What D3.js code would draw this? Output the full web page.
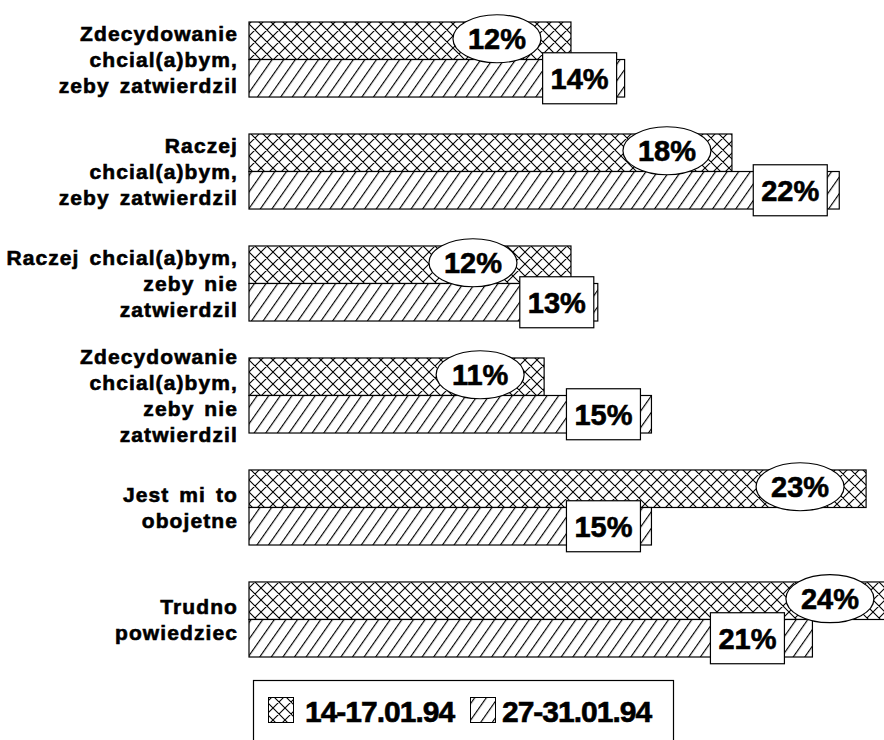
<!DOCTYPE html>
<html>
<head>
<meta charset="utf-8">
<script src="https://cdn.jsdelivr.net/npm/d3@7"></script>
<style>
  html, body { margin: 0; padding: 0; background: #fff; }
  svg { display: block; }
  text { font-family: "Liberation Sans", Arial, Helvetica, sans-serif; font-weight: bold; fill: #000; stroke: #000; stroke-width: 0.6px; }
</style>
</head>
<body>
<svg id="chart" width="884" height="740"></svg>
<script>
// ---- data ----
const categories = [
  ["Zdecydowanie", "chcial(a)bym,", "zeby zatwierdzil"],
  ["Raczej", "chcial(a)bym,", "zeby zatwierdzil"],
  ["Raczej chcial(a)bym,", "zeby nie", "zatwierdzil"],
  ["Zdecydowanie", "chcial(a)bym,", "zeby nie", "zatwierdzil"],
  ["Jest mi to", "obojetne"],
  ["Trudno", "powiedziec"]
];
const seriesNames = ["14-17.01.94", "27-31.01.94"];
const valuesJan14 = [12, 18, 12, 11, 23, 24];
const valuesJan27 = [14, 22, 13, 15, 15, 21];

// ---- layout (label placement, not data) ----
const ellipseShift = [-74, -65, -98, -64, -66, -63];
const boxShift = [-45, -49, -41, -48, -48, -65];

const svg = d3.select("#chart");
const defs = svg.append("defs");

// crosshatch pattern
const ph = defs.append("pattern").attr("id", "cross")
  .attr("patternUnits", "userSpaceOnUse").attr("width", 12).attr("height", 12)
  .attr("x", 249).attr("y", 0);
ph.append("rect").attr("width", 12).attr("height", 12).attr("fill", "#fff");
ph.append("path").attr("d", "M0,0L12,12M12,0L0,12M-1,11L1,13M11,-1L13,1M-1,1L1,-1M11,13L13,11")
  .attr("stroke", "#000").attr("stroke-width", 1.1);

// diagonal pattern
const pd = defs.append("pattern").attr("id", "diag")
  .attr("patternUnits", "userSpaceOnUse").attr("width", 9.5).attr("height", 9.5)
  .attr("patternTransform", "rotate(35)");
pd.append("rect").attr("width", 9.5).attr("height", 9.5).attr("fill", "#fff");
pd.append("line").attr("x1", 0.5).attr("y1", 0).attr("x2", 0.5).attr("y2", 9.5)
  .attr("stroke", "#000").attr("stroke-width", 1.3);

const fills = ["url(#cross)", "url(#diag)"];

const x = d3.scaleLinear().domain([0, 25]).range([249, 249 + 26.83 * 25]);
const idx = d3.range(categories.length);
const y = d3.scaleBand().domain(idx).range([22, 657]).paddingInner(0.33).paddingOuter(0);
const ys = d3.scaleBand().domain([0, 1]).range([0, y.bandwidth()]);

const series = [valuesJan14, valuesJan27];

const g = svg.append("g");
series.forEach((vals, si) => {
  g.selectAll(".bar" + si).data(idx).enter().append("rect")
    .attr("x", x(0))
    .attr("y", d => y(d) + ys(si))
    .attr("width", d => x(vals[d]) - x(0))
    .attr("height", ys.bandwidth())
    .attr("fill", fills[si])
    .attr("stroke", "#000").attr("stroke-width", 1.2);
});

// category labels
idx.forEach(i => {
  const lines = categories[i];
  const cy = y(i) + y.bandwidth() / 2;
  const lh = 26;
  const t = svg.append("text").attr("text-anchor", "end")
    .style("font-size", "21px").style("letter-spacing", "1.1px").style("word-spacing", "3px");
  lines.forEach((ln, k) => {
    t.append("tspan").attr("x", 238)
      .attr("y", cy + (k - (lines.length - 1) / 2) * lh + 7.5)
      .text(ln);
  });
});

// ellipse labels for first series
idx.forEach(i => {
  const cx = x(valuesJan14[i]) + ellipseShift[i];
  const cy = y(i) + ys(0) + ys.bandwidth() / 2 - 2;
  svg.append("ellipse").attr("cx", cx).attr("cy", cy).attr("rx", 44).attr("ry", 24)
    .attr("fill", "#fff").attr("stroke", "#000").attr("stroke-width", 1.2);
  svg.append("text").attr("x", cx).attr("y", cy + 10).attr("text-anchor", "middle")
    .style("font-size", "29px").text(valuesJan14[i] + "%");
});

// box labels for second series
idx.forEach(i => {
  const cx = x(valuesJan27[i]) + boxShift[i];
  const cy = y(i) + ys(1) + ys.bandwidth() / 2;
  svg.append("rect").attr("x", cx - 37).attr("y", cy - 25.5).attr("width", 74).attr("height", 51)
    .attr("fill", "#fff").attr("stroke", "#000").attr("stroke-width", 1.2);
  svg.append("text").attr("x", cx).attr("y", cy + 11).attr("text-anchor", "middle")
    .style("font-size", "29px").text(valuesJan27[i] + "%");
});

// legend
const lg = svg.append("g");
lg.append("rect").attr("x", 253.5).attr("y", 680.5).attr("width", 420).attr("height", 80)
  .attr("fill", "#fff").attr("stroke", "#000").attr("stroke-width", 1.2);
const legX = [268, 470];
const txtX = [305, 502];
seriesNames.forEach((nm, si) => {
  lg.append("rect").attr("x", legX[si] + 0.5).attr("y", 697.5).attr("width", 25).attr("height", 25)
    .attr("fill", fills[si]).attr("stroke", "#000").attr("stroke-width", 1);
  lg.append("text").attr("x", txtX[si]).attr("y", 722)
    .style("font-size", "30px").style("letter-spacing", "-1px").text(nm);
});
</script>
</body>
</html>
